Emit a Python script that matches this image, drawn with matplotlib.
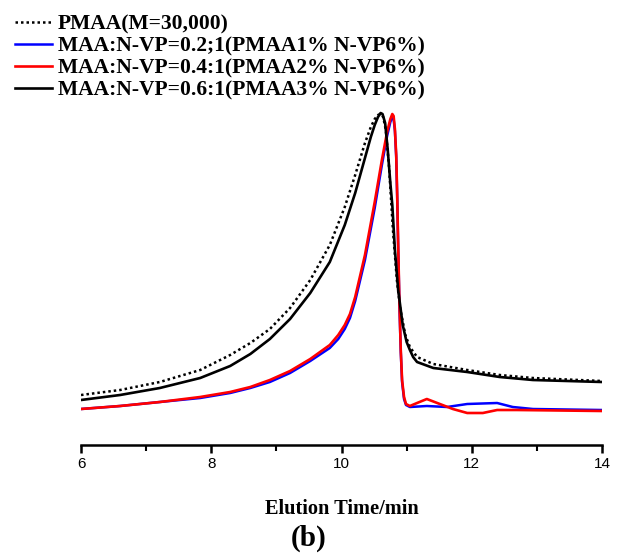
import matplotlib
matplotlib.use("Agg")
import matplotlib.pyplot as plt
from matplotlib.ticker import MultipleLocator

# Curvas GPC (tiempo de elución en min, señal en unidades arbitrarias)
t_pmaa = [6.0, 6.6, 7.21, 7.83, 8.29, 8.6, 8.9, 9.21, 9.52, 9.82, 10.05, 10.21,
          10.36, 10.45, 10.51, 10.56, 10.6, 10.64, 10.68, 10.73, 10.79, 10.85, 10.9,
          10.98, 11.05, 11.16, 11.41, 11.93, 12.43, 12.94, 14.0]
y_pmaa = [50, 55, 63, 75, 90, 102, 116, 137, 165, 200, 238, 270,
          302, 318, 326, 330, 331, 328, 315, 278, 215, 165, 137,
          110, 98, 88, 81, 75, 70, 67, 64]

t_06 = [6.0, 6.6, 7.21, 7.83, 8.29, 8.6, 8.9, 9.21, 9.52, 9.82, 10.05, 10.13, 10.21,
        10.36, 10.45, 10.51, 10.56, 10.6, 10.63, 10.67, 10.71, 10.75, 10.78, 10.82,
        10.87, 10.94, 11.0, 11.05, 11.1, 11.16, 11.41, 11.93, 12.43, 12.94, 14.0]
y_06 = [45, 50, 57, 67, 79, 91, 106, 126, 152, 183, 220, 236, 252,
        287, 308, 320, 328, 332, 331, 322, 295, 262, 240, 195,
        155, 120, 103, 95, 88, 83, 77, 73, 68, 65, 63]

t_04 = [6.0, 6.6, 7.21, 7.83, 8.29, 8.6, 8.9, 9.21, 9.52, 9.82, 9.95, 10.05, 10.13,
        10.21, 10.36, 10.51, 10.62, 10.7, 10.75, 10.78, 10.8, 10.82, 10.84, 10.855,
        10.87, 10.89, 10.91, 10.93, 10.96, 10.99, 11.05, 11.16, 11.31, 11.51, 11.71,
        11.93, 12.17, 12.39, 12.69, 14.0]
y_04 = [36, 39, 43, 48, 53, 58, 65, 74, 86, 100, 110, 120, 131,
        148, 190, 243, 285, 313, 326, 331, 329, 316, 290, 250,
        200, 140, 95, 65, 48, 41, 39, 42, 46, 41, 36,
        32, 32, 35, 35, 34]

t_02 = [6.0, 6.6, 7.21, 7.83, 8.29, 8.6, 8.9, 9.21, 9.52, 9.82, 9.95, 10.05, 10.13,
        10.21, 10.36, 10.51, 10.62, 10.7, 10.75, 10.78, 10.8, 10.82, 10.84, 10.855,
        10.87, 10.89, 10.91, 10.93, 10.96, 10.99, 11.05, 11.31, 11.62, 11.93, 12.39,
        12.63, 12.94, 14.0]
y_02 = [36, 39, 43, 47, 52, 57, 63, 72, 84, 97, 106, 116, 127,
        144, 185, 237, 280, 309, 323, 328, 326, 314, 288, 248,
        198, 138, 93, 63, 46, 40, 38, 39, 38, 41, 42,
        38, 36, 35]

etiquetas = ["PMAA(M=30,000)",
             "MAA:N-VP=0.2;1(PMAA1% N-VP6%)",
             "MAA:N-VP=0.4:1(PMAA2% N-VP6%)",
             "MAA:N-VP=0.6:1(PMAA3% N-VP6%)"]

serif = ["Liberation Serif", "DejaVu Serif"]

fig = plt.figure(figsize=(6.17, 5.53), dpi=100)
ax = fig.add_axes([0.1313, 0.1953, 0.8444, 0.6148])

l0, = ax.plot(t_pmaa, y_pmaa, color="black", lw=1.8, linestyle=(0, (1, 1.2)))
l1, = ax.plot(t_02, y_02, color="#0000ff", lw=1.8)
l2, = ax.plot(t_04, y_04, color="#ff0000", lw=1.9)
l3, = ax.plot(t_06, y_06, color="black", lw=1.9)

ax.set_xlim(6, 14)
ax.set_ylim(0, 340)
for s in ["left", "right", "top"]:
    ax.spines[s].set_visible(False)
ax.spines["bottom"].set_linewidth(1.8)
ax.set_yticks([])
ax.xaxis.set_major_locator(MultipleLocator(2))
ax.xaxis.set_minor_locator(MultipleLocator(1))
ax.tick_params(axis="x", which="major", length=6, width=1.8, direction="out",
               labelsize=11, pad=3)
ax.tick_params(axis="x", which="minor", length=4, width=1.5, direction="out")
for lab in ax.get_xticklabels():
    lab.set_family(["Liberation Sans", "DejaVu Sans"])

ax.set_xlabel("Elution Time/min", family=serif, fontweight="bold", fontsize=14.7, labelpad=20)
fig.text(0.5, 0.027, "(b)", family=serif, fontweight="bold", fontsize=21,
         ha="center", va="center")

# leyenda arriba a la izquierda, sin marco
fig.legend([l0, l1, l2, l3], etiquetas, loc="upper left", bbox_to_anchor=(0.0104, 0.989),
           frameon=False, prop={"family": serif, "weight": "bold", "size": 15.5},
           handlelength=1.7, handletextpad=0.3, labelspacing=0.09, borderaxespad=0)

fig.savefig("out.png", dpi=100)
